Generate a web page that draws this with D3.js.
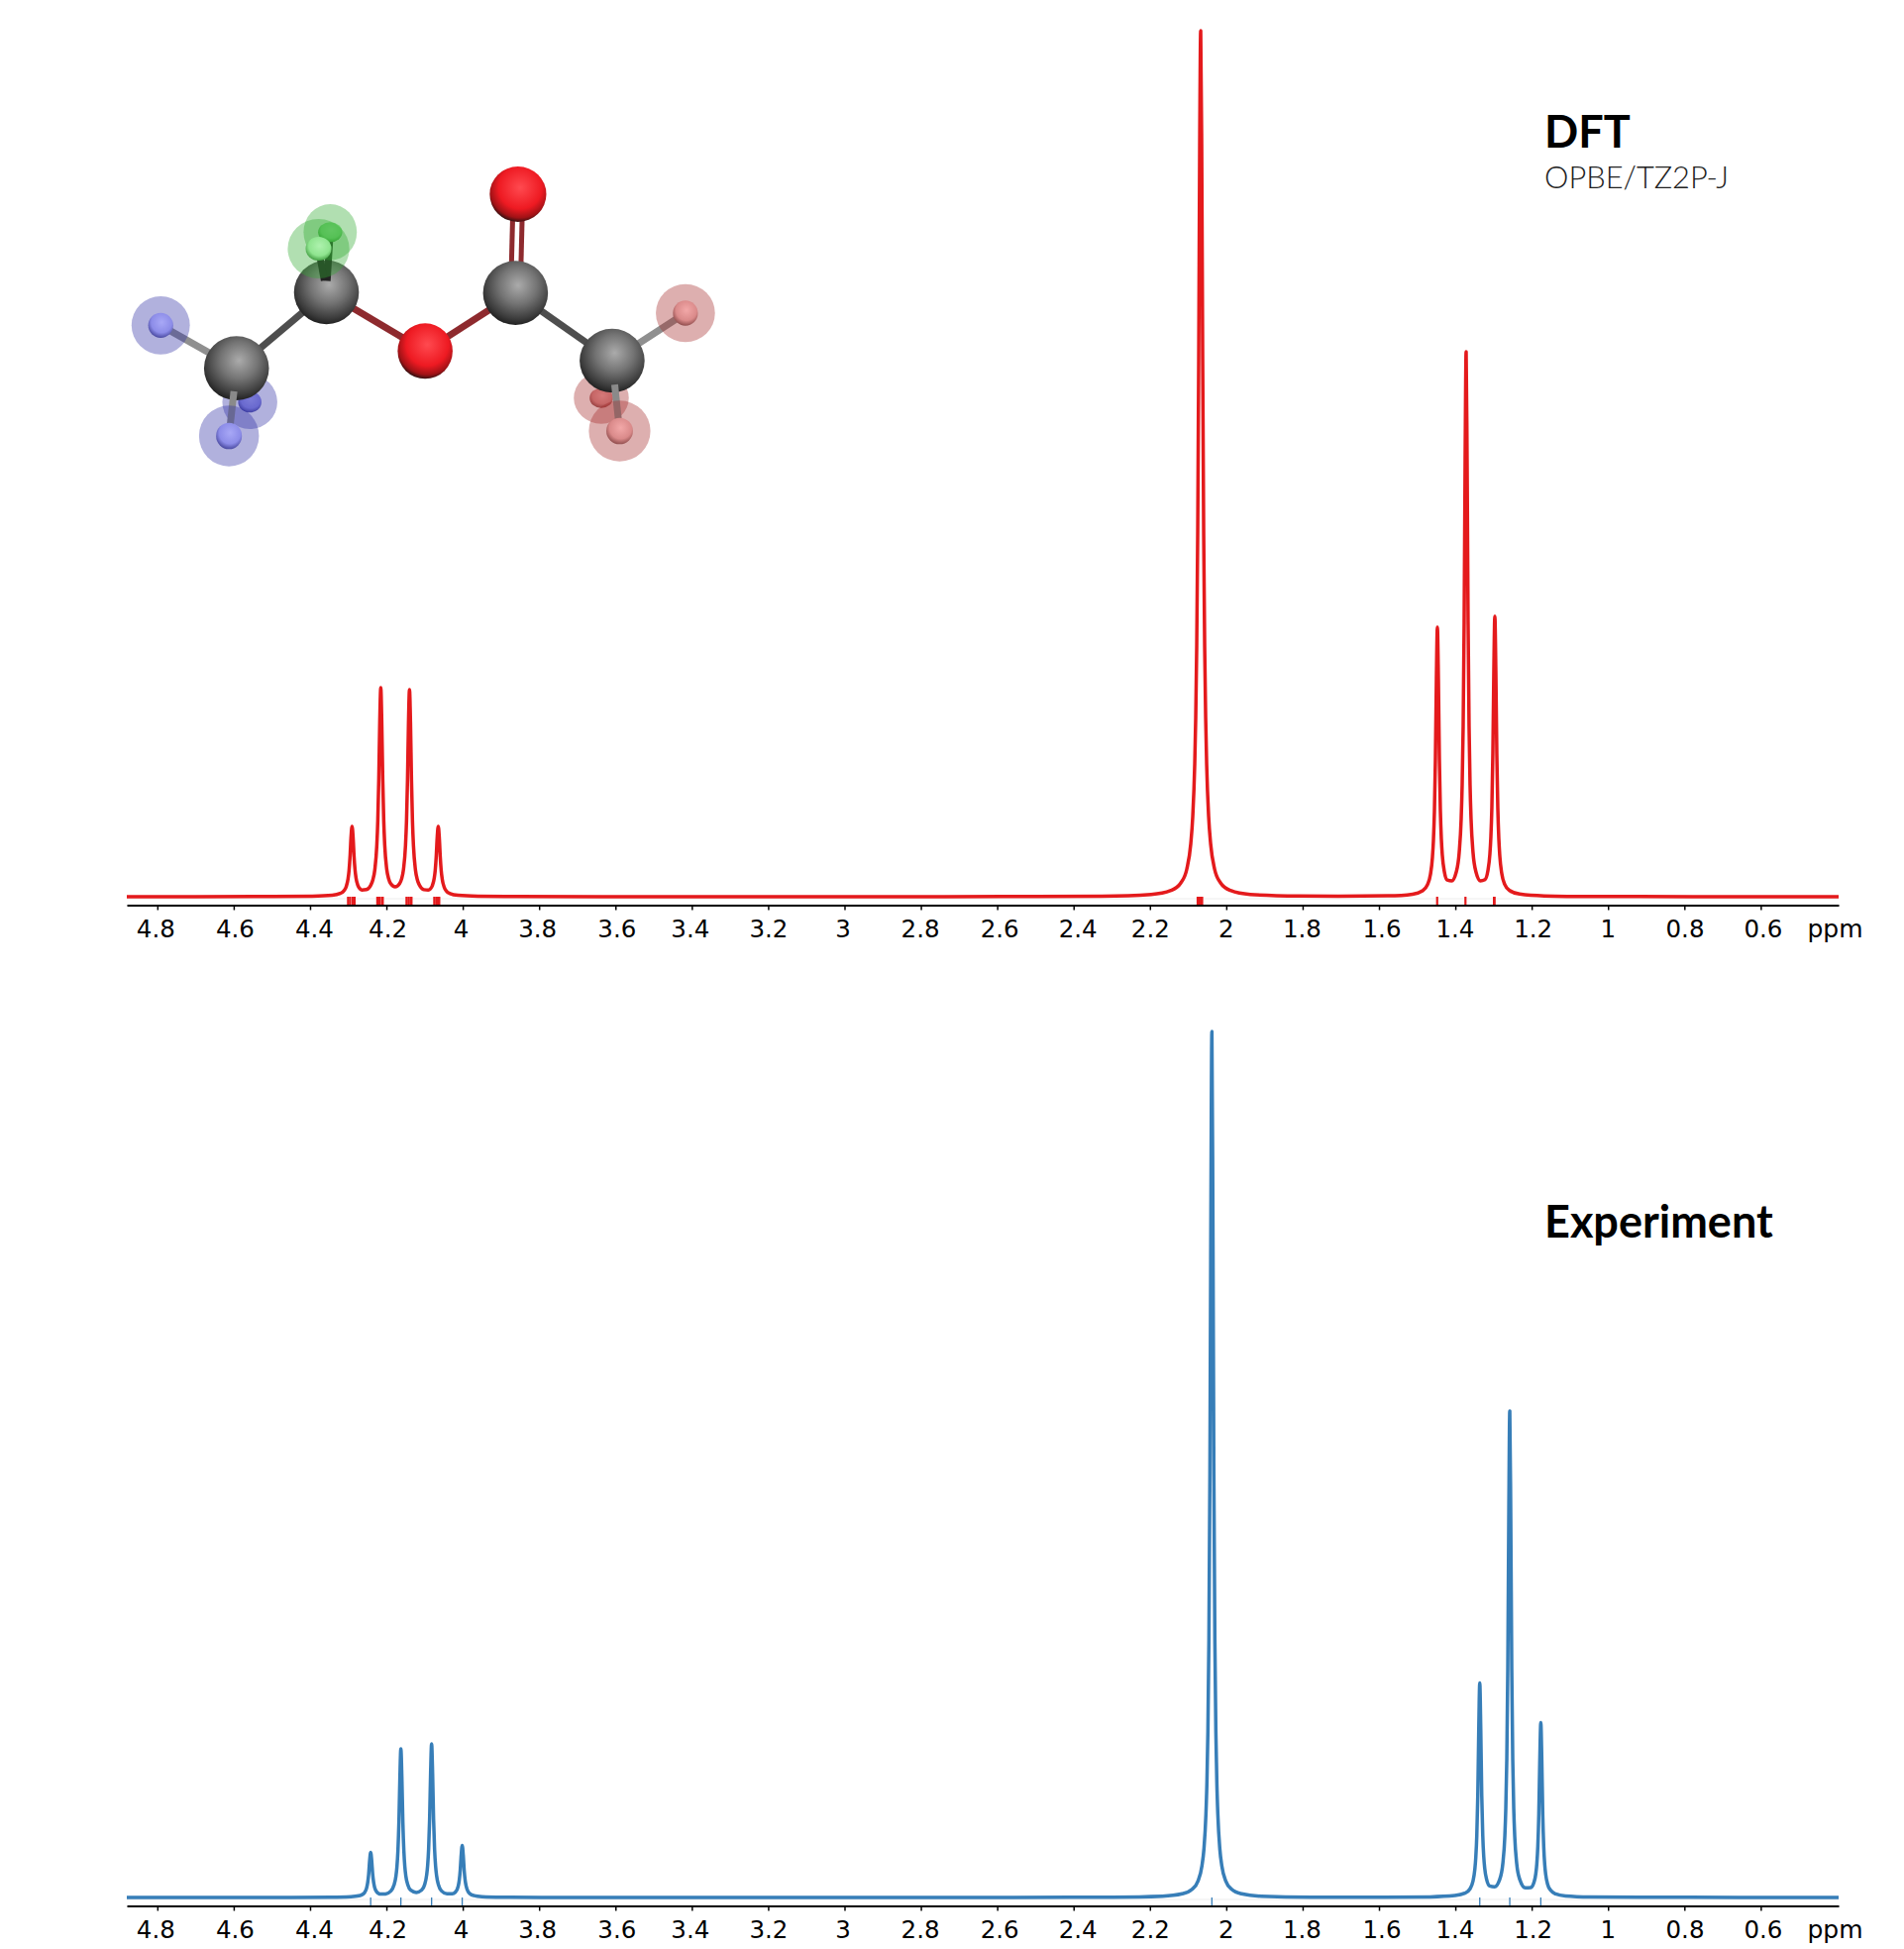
<!DOCTYPE html>
<html>
<head>
<meta charset="utf-8">
<script src="https://cdn.jsdelivr.net/npm/d3@7/dist/d3.min.js"></script>
<style>
html,body{margin:0;padding:0;background:#fff;}
svg{display:block;}
</style>
</head>
<body>
<div id="chart"></div>
<script>
// ---------- spectra ----------
const dftPpm = [4.88,4.70,4.4976,4.3938,4.3419,4.3211,4.3108,4.3056,4.3004,4.2978,4.2952,4.2926,4.2900,4.2874,4.2848,4.2822,4.2796,4.2744,4.2692,4.2641,4.2524,4.2407,4.2355,4.2303,4.2251,4.2225,4.2199,4.2173,4.2147,4.2122,4.2096,4.2070,4.2044,4.1992,4.1940,4.1888,4.1771,4.1654,4.1603,4.1551,4.1499,4.1473,4.1447,4.1421,4.1395,4.1369,4.1343,4.1317,4.1291,4.1239,4.1187,4.1135,4.1019,4.0902,4.0850,4.0798,4.0746,4.0720,4.0694,4.0668,4.0642,4.0616,4.0590,4.0565,4.0539,4.0487,4.0435,4.0331,4.0123,3.9604,3.8566,3.40,2.90,2.5860,2.3265,2.1968,2.1449,2.1189,2.1033,2.0930,2.0878,2.0826,2.0800,2.0774,2.0748,2.0722,2.0696,2.0670,2.0644,2.0618,2.0592,2.0566,2.0540,2.0514,2.0462,2.0410,2.0307,2.0151,1.9891,1.9372,1.8075,1.7065,1.5768,1.5119,1.4859,1.4730,1.4652,1.4600,1.4574,1.4548,1.4522,1.4496,1.4470,1.4444,1.4418,1.4392,1.4366,1.4340,1.4288,1.4211,1.4094,1.3977,1.3899,1.3847,1.3821,1.3795,1.3769,1.3743,1.3717,1.3692,1.3666,1.3640,1.3614,1.3588,1.3536,1.3458,1.3341,1.3224,1.3147,1.3095,1.3069,1.3043,1.3017,1.2991,1.2965,1.2939,1.2913,1.2887,1.2861,1.2835,1.2783,1.2705,1.2576,1.2316,1.1667,1.0370,0.7775,0.396];
const dftIntensity = [0.06,0.1,0.21,0.57,1.5,3.3,6.2,9.8,18.2,26.7,40.8,60.6,71,60.9,41.2,27.3,19,11.1,8,6.75,7.2,11.8,17,27.3,51.8,77,119,177.7,211,177.8,119,77.4,52.3,28,18,13.2,10,13.3,17.9,27.9,52,76.5,118,176,209,176,118,76,51.3,27,16.7,11.7,7.1,6.7,7.9,11,18.9,27.2,41.1,60.8,71,60.6,40.7,26.7,18.1,9.8,6.1,3.2,1.45,0.53,0.2,0.08,0.1,0.14,0.57,2.3,6.3,14,28,53.5,81,134,181,253,367,542,759,874,759,542,367,253,181,134,81,53.5,28,14,6.3,2.3,0.7,0.4,0.88,2.6,6,12.1,22.4,39.6,56.5,85.8,138,219.5,272,220,138.9,87,58.1,41.6,25.4,16.8,16,24.7,44.4,78.5,112.7,171.6,277,441.5,550,441.6,277,171.7,112.8,78.5,44.5,24.8,16.1,17.3,26.2,43,60.2,90.3,144.3,228.7,283,228.2,143.4,89.1,58.6,41,23.2,12.4,6.2,2.65,0.86,0.27,0.1,0.04];
const expPpm = [4.88,4.65,4.4488,4.3450,4.2931,4.2723,4.2620,4.2568,4.2516,4.2490,4.2464,4.2438,4.2412,4.2386,4.2360,4.2334,4.2308,4.2256,4.2204,4.2152,4.2023,4.1880,4.1802,4.1750,4.1724,4.1698,4.1672,4.1646,4.1621,4.1595,4.1569,4.1543,4.1517,4.1491,4.1439,4.1361,4.1218,4.1076,4.0998,4.0946,4.0920,4.0894,4.0868,4.0842,4.0816,4.0790,4.0764,4.0738,4.0712,4.0686,4.0634,4.0557,4.0414,4.0274,4.0196,4.0144,4.0118,4.0092,4.0066,4.0040,4.0014,3.9988,3.9962,3.9936,3.9910,3.9859,3.9807,3.9703,3.9495,3.8976,3.7949,3.30,2.80,2.5567,2.2972,2.1675,2.1156,2.0896,2.0740,2.0637,2.0585,2.0533,2.0507,2.0481,2.0455,2.0429,2.0403,2.0377,2.0351,2.0325,2.0299,2.0273,2.0247,2.0221,2.0169,2.0117,2.0014,1.9858,1.9598,1.9079,1.7782,1.5955,1.4658,1.4009,1.3749,1.3620,1.3542,1.3490,1.3464,1.3438,1.3412,1.3386,1.3360,1.3334,1.3308,1.3282,1.3256,1.3230,1.3178,1.3101,1.2971,1.2841,1.2755,1.2703,1.2678,1.2652,1.2626,1.2600,1.2574,1.2548,1.2522,1.2496,1.2470,1.2444,1.2392,1.2314,1.2166,1.2021,1.1943,1.1891,1.1865,1.1839,1.1813,1.1787,1.1761,1.1735,1.1710,1.1684,1.1658,1.1632,1.1580,1.1502,1.1372,1.1113,1.0464,0.9167,0.6587,0.396];
const expIntensity = [0.03,0.06,0.12,0.3,0.81,1.71,3.25,5.2,9.9,14.9,23.7,37.5,45.5,37.7,23.9,15.2,10.2,5.8,4,3.4,3.6,6.6,12.4,21.5,30.9,47.2,76.3,121.7,150,121.7,76.4,47.5,31.2,21.8,12.8,7.3,5.1,7.5,13,22.6,32.2,48.9,78.9,125.6,155,125.6,78.7,48.7,31.9,22.2,12.5,6.6,3.7,3.7,5.3,8.4,11.6,17.2,27.4,43.2,52.5,43.1,27.2,17,11.3,5.9,3.6,1.85,0.85,0.3,0.1,0.04,0.06,0.1,0.33,1.3,3.7,8.3,16.7,32,49,84,116,168,260,427,694,874,694,427,260,168,116,84,49,32,16.7,8.3,3.7,1.3,0.35,0.27,0.62,1.9,4.3,8.5,15.85,28.1,40.5,62.3,102.6,169.9,216.5,170.2,103,63,41.5,29.4,17.8,11.6,10.8,17.9,34.5,62,89.8,139,230.5,383.4,491,383.4,230.4,138.9,89.6,61.7,34.1,18.4,9.8,10,14.9,24.3,34.2,51.7,84.3,139,176.5,139,83.8,51,33.2,23.1,13,7.2,3.6,1.6,0.57,0.2,0.1,0.04];
const dftSticks = [4.3004,4.2952,4.2887,4.2835,4.2238,4.2186,4.2121,4.2095,4.1473,4.1421,4.1369,4.1343,4.0746,4.0694,4.0655,4.0616,2.0749,2.0710,2.0671,2.0632,1.4476,1.3735,1.2988,1.2973];
const expSticks = [4.2412,4.1621,4.0816,4.0014,2.0377,1.3360,1.2574,1.1761];
const tickValues = [4.8,4.6,4.4,4.2,4,3.8,3.6,3.4,3.2,3,2.8,2.6,2.4,2.2,2,1.8,1.6,1.4,1.2,1,0.8,0.6];
const tickLabels = ["4.8","4.6","4.4","4.2","4","3.8","3.6","3.4","3.2","3","2.8","2.6","2.4","2.2","2","1.8","1.6","1.4","1.2","1","0.8","0.6"];
const tickLabelShift = [-2,1,4,1,-2,-2,1,-2,0,-2,-1,2,4,0,-0.5,-1,2.5,-0.7,1,-0.5,0.2,2];

// ---------- molecule (drawing units) ----------
const atomKinds = ["C","C","O","C","O","C","Hb","Hb","Hb","Hg","Hg","Hr","Hr","Hr"];
const atomX  = [330,546,783,1000,1006,1232,148,362,312,555,527,1408,1206,1250];
const atomY  = [695,465,643,467,168,672,565,797,900,283,333,528,785,885];
const atomRx = [78,78,66,78,68,78,30,28,31,29,31,30,28,32];
const atomRy = [97,97,84,97,84,97,38,32,40,30,36,38,30,40];
const haloRx = [0,0,0,0,0,0,70,66,72,64,74,71,66,74];
const haloRy = [0,0,0,0,0,0,88,82,92,85,90,88,78,92];
const bondFrom = [0,1,2,3,3,3,5,0,0,0,1,1,5,5];
const bondTo   = [1,2,3,5,4,4,11,6,7,8,9,10,12,13];
const bondStart = [0,0,0,0,0,0,0,0,0,0.34,0.19,0.27,0,0.34];
const bondKind = ["cc","co","co","cc","co2a","co2b","ch","ch","ch","chf","chg","chg","ch","chf"];
const drawOrder = ["b0","b1","b2","b3","b4","b5","b6","b7","a7","h7","a12","h12",
  "a0","a5","a1","a3","a2","a4",
  "b9","h8","a8","b13","h13","a13","h6","a6","h11","a11",
  "b10","a9","h9","b11","h10","a10"];

// ---------- layout ----------
const W = 1922, H = 1967;
const svg = d3.select("#chart").append("svg").attr("width", W).attr("height", H).style("font-family", "'DejaVu Sans'");
const defs = svg.append("defs");

const x = d3.scaleLinear().domain([4.88, 0.396]).range([128, 1856]);
const panels = [
  {ppm: dftPpm, val: dftIntensity, sticks: dftSticks, color: "#e41a1c", base: 905, top: 29, axis: 913.5, stickW: 2.2, stickColor: "#e41a1c"},
  {ppm: expPpm, val: expIntensity, sticks: expSticks, color: "#377eb8", base: 1915, top: 1039, axis: 1923.5, stickW: 1.3, stickColor: "#377eb8"}
];

panels.forEach(p => {
  const y = d3.scaleLinear().domain([0, 876]).range([p.base, p.top]);
  const g = svg.append("g");
  // faint line along the foot of the sticks
  g.append("line").attr("x1", x.range()[0]).attr("x2", x.range()[1])
    .attr("y1", p.base + 2).attr("y2", p.base + 2).attr("stroke", "#f3f3f3").attr("stroke-width", 1.5);
  g.selectAll("line.stick").data(p.sticks).join("line").attr("class", "stick")
    .attr("x1", d => x(d)).attr("x2", d => x(d))
    .attr("y1", p.base).attr("y2", p.axis)
    .attr("stroke", p.stickColor).attr("stroke-width", p.stickW);
  const line = d3.line().x((d, i) => x(p.ppm[i])).y(d => y(d)).curve(d3.curveMonotoneX);
  g.append("path").attr("d", line(p.val)).attr("fill", "none")
    .attr("stroke", p.color).attr("stroke-width", 3.5).attr("stroke-linejoin", "round");

  const axis = d3.axisBottom(x).tickValues(tickValues)
    .tickFormat((d, i) => tickLabels[i]).tickSize(5).tickSizeOuter(0).tickPadding(10);
  const ag = svg.append("g").attr("transform", `translate(0,${p.axis})`).call(axis);
  ag.select(".domain").attr("stroke", "#000").attr("stroke-width", 2);
  ag.selectAll(".tick line").attr("stroke", "#000").attr("stroke-width", 1.5);
  ag.selectAll(".tick text").attr("fill", "#000").style("font-size", "24.5px")
    .style("font-family", "'DejaVu Sans'")
    .attr("dx", (d, i) => tickLabelShift[i]);
  ag.append("text").attr("x", 1852.5).attr("y", 15).attr("dy", "0.71em")
    .attr("text-anchor", "middle").attr("fill", "#000").style("font-size", "25px")
    .style("font-family", "'DejaVu Sans'").text("ppm");
});

// ---------- titles ----------
svg.append("text").attr("x", 1559).attr("y", 149).attr("fill", "#000")
  .style("font-family", "Lato").style("font-weight", 700).style("font-size", "45px").text("DFT");
svg.append("text").attr("x", 1559).attr("y", 190).attr("fill", "#222")
  .style("font-family", "Lato").style("font-weight", 300).style("font-size", "30.8px").text("OPBE/TZ2P-J");
svg.append("text").attr("x", 1559).attr("y", 1249).attr("fill", "#000")
  .style("font-family", "Lato").style("font-weight", 700).style("font-size", "45px").text("Experiment");

// ---------- molecule ----------
const mx = d3.scaleLinear().domain([0, 1570]).range([100, 760]);
const my = d3.scaleLinear().domain([0, 1020]).range([140, 480]);
const mrx = d3.scaleLinear().domain([0, 1570]).range([0, 660]);
const mry = d3.scaleLinear().domain([0, 1020]).range([0, 340]);
const grads = {
  C:  [["0%", "#ababab"], ["45%", "#747474"], ["82%", "#3c3c3c"], ["100%", "#1c1c1c"]],
  O:  [["0%", "#ff4a50"], ["60%", "#ee1a22"], ["85%", "#a01216"], ["100%", "#1d1010"]],
  Hb: [["0%", "#a8a8f6"], ["65%", "#8c8ce8"], ["100%", "#44449a"]],
  Hg: [["0%", "#aef2ae"], ["65%", "#8fe48f"], ["100%", "#3e9a3e"]],
  Hr: [["0%", "#f2a8a8"], ["65%", "#da8a8a"], ["100%", "#8c4a4a"]]
};
Object.keys(grads).forEach(k => {
  const g = defs.append("radialGradient").attr("id", "atom" + k)
    .attr("cx", "54%").attr("cy", "38%").attr("r", "64%");
  grads[k].forEach(s => g.append("stop").attr("offset", s[0]).attr("stop-color", s[1]));
});
const haloFill = {Hb: "rgba(50,50,165,0.38)", Hg: "rgba(50,170,50,0.38)", Hr: "rgba(165,45,45,0.38)"};
const bondStyle = {
  cc: {c: "#4e4e4e", w: 7, o: 0}, co: {c: "#8e2a2e", w: 7, o: 0},
  co2a: {c: "#8e2a2e", w: 5, o: -4.8}, co2b: {c: "#8e2a2e", w: 5, o: 4.8},
  ch: {c: "#8f8f8f", w: 7, o: 0}, chf: {c: "#8a8a8a", w: 7, o: 0},
  chg: {c: "#222222", w: 7, o: 0}
};
const mol = svg.append("g");
drawOrder.forEach(item => {
  const t = item[0], idx = parseInt(item.slice(1));
  if (t === "b") {
    const s = bondStyle[bondKind[idx]], a = bondFrom[idx], b = bondTo[idx], f = bondStart[idx];
    mol.append("line")
      .attr("x1", mx(atomX[a] + (atomX[b] - atomX[a]) * f) + s.o).attr("y1", my(atomY[a] + (atomY[b] - atomY[a]) * f))
      .attr("x2", mx(atomX[b]) + s.o).attr("y2", my(atomY[b]))
      .attr("stroke", s.c).attr("stroke-width", s.w);
  } else if (t === "a") {
    mol.append("ellipse").attr("cx", mx(atomX[idx])).attr("cy", my(atomY[idx]))
      .attr("rx", mrx(atomRx[idx])).attr("ry", mry(atomRy[idx]))
      .attr("fill", `url(#atom${atomKinds[idx]})`);
  } else if (t === "h") {
    mol.append("ellipse").attr("cx", mx(atomX[idx])).attr("cy", my(atomY[idx]))
      .attr("rx", mrx(haloRx[idx])).attr("ry", mry(haloRy[idx]))
      .attr("fill", haloFill[atomKinds[idx]]);
  }
});
</script>
</body>
</html>
